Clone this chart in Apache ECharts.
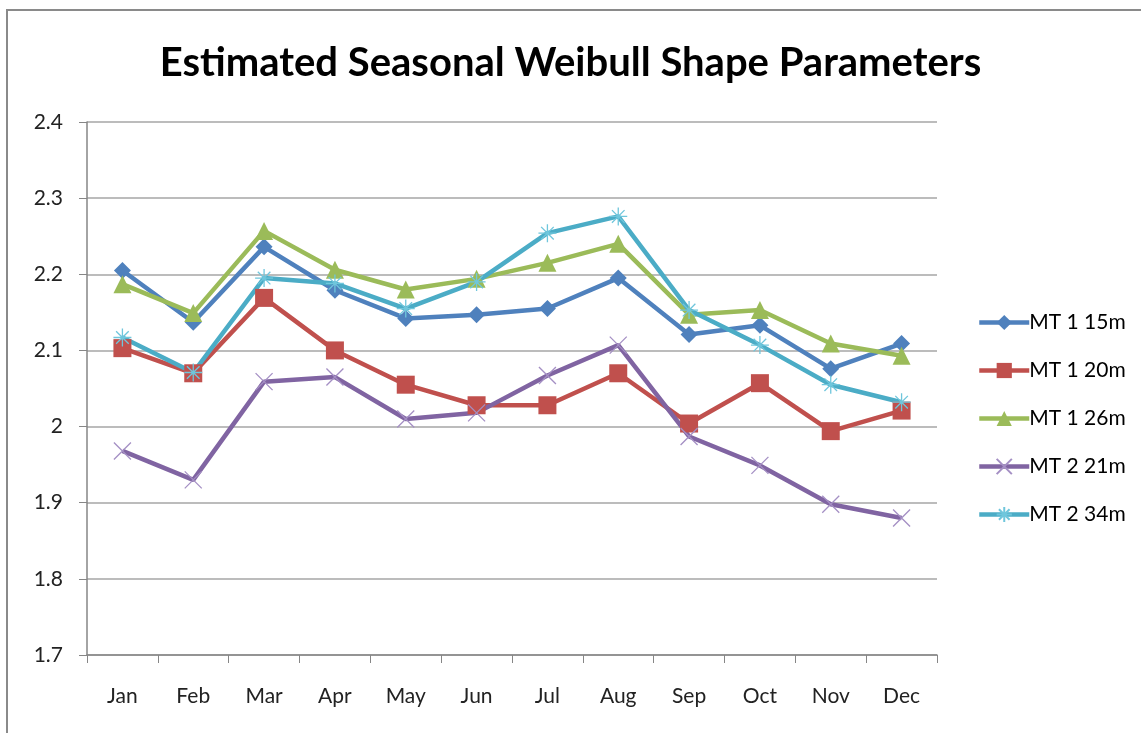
<!DOCTYPE html>
<html>
<head>
<meta charset="utf-8">
<title>Estimated Seasonal Weibull Shape Parameters</title>
<script src="https://cdn.jsdelivr.net/npm/echarts@6/dist/echarts.min.js"></script>
<style>
  html, body { margin: 0; padding: 0; background: #fff; }
  #main { width: 1141px; height: 733px; }
</style>
</head>
<body>
<div id="main"></div>
<script>
// data
var months = ['Jan', 'Feb', 'Mar', 'Apr', 'May', 'Jun', 'Jul', 'Aug', 'Sep', 'Oct', 'Nov', 'Dec'];
var seriesNames = ['MT 1 15m', 'MT 1 20m', 'MT 1 26m', 'MT 2 21m', 'MT 2 34m'];
var mt1_15 = [2.205, 2.137, 2.236, 2.179, 2.142, 2.147, 2.155, 2.195, 2.121, 2.133, 2.076, 2.109];
var mt1_20 = [2.103, 2.070, 2.169, 2.100, 2.055, 2.028, 2.028, 2.070, 2.004, 2.057, 1.994, 2.021];
var mt1_26 = [2.187, 2.149, 2.257, 2.206, 2.180, 2.194, 2.215, 2.240, 2.147, 2.153, 2.109, 2.093];
var mt2_21 = [1.968, 1.930, 2.059, 2.065, 2.010, 2.018, 2.067, 2.107, 1.987, 1.949, 1.898, 1.880];
var mt2_34 = [2.117, 2.071, 2.195, 2.188, 2.155, 2.190, 2.254, 2.276, 2.153, 2.107, 2.055, 2.032];
var yTicks = [1.7, 1.8, 1.9, 2.0, 2.1, 2.2, 2.3, 2.4];

var colors = ['#4F81BD', '#C0504D', '#9BBB59', '#8064A2', '#4BACC6'];
var crossPath = 'path://M0,0L10,10M10,0L0,10';
var starPath = 'path://M0,5L10,5M5,0L5,10M1.5,1.5L8.5,8.5M8.5,1.5L1.5,8.5';

function lineSeries(name, data, color, symbol, size, stroked) {
    var s = {
        name: name,
        type: 'line',
        data: data,
        symbol: symbol,
        symbolSize: size,
        showAllSymbol: true,
        lineStyle: { color: color, width: 4.5 },
        itemStyle: { color: color },
        emphasis: { disabled: true },
        z: 2
    };
    if (stroked) {
        s.itemStyle = { color: 'rgba(0,0,0,0)', borderColor: stroked, borderWidth: 1.3 };
    }
    return s;
}

var myChart = echarts.init(document.getElementById('main'));
var option = {
    animation: false,
    textStyle: { fontFamily: 'Lato' },
    graphic: [{
        type: 'rect',
        shape: { x: 7, y: 10, width: 1300, height: 900 },
        style: { fill: 'none', stroke: '#8a8a8a', lineWidth: 2 },
        silent: true
    }],
    title: {
        text: 'Estimated Seasonal Weibull Shape Parameters',
        left: 'center',
        top: 38,
        textStyle: { fontFamily: 'Lato', fontWeight: 'bold', fontSize: 40, color: '#000' }
    },
    legend: {
        orient: 'vertical',
        left: 972,
        top: 307,
        itemWidth: 50,
        itemHeight: 19,
        itemGap: 27,
        data: seriesNames,
        lineStyle: { width: 4.5 },
        textStyle: { fontFamily: 'Lato', fontSize: 21, color: '#000', padding: [0, 0, 0, -5] }
    },
    grid: { left: 87, right: 204, top: 122, bottom: 78, containLabel: false },
    xAxis: {
        type: 'category',
        data: months,
        boundaryGap: true,
        axisLine: { lineStyle: { color: '#868686', width: 1.5 } },
        axisTick: { show: true, length: 8, lineStyle: { color: '#868686' } },
        axisLabel: { margin: 31, fontSize: 21, color: '#222', fontFamily: 'Lato' },
        splitLine: { show: false }
    },
    yAxis: {
        type: 'value',
        min: yTicks[0],
        max: yTicks[yTicks.length - 1],
        interval: 0.1,
        axisLine: { show: true, lineStyle: { color: '#868686', width: 1.5 } },
        axisTick: { show: true, length: 8, lineStyle: { color: '#868686' } },
        axisLabel: { margin: 24, fontSize: 21, color: '#222', fontFamily: 'Lato',
            formatter: function (v) { return String(Math.round(v * 10) / 10); } },
        splitLine: { lineStyle: { color: '#a6a6a6', width: 1.5 } }
    },
    series: [
        lineSeries(seriesNames[0], mt1_15, colors[0], 'diamond', 17),
        lineSeries(seriesNames[1], mt1_20, colors[1], 'rect', 18),
        lineSeries(seriesNames[2], mt1_26, colors[2], 'triangle', 18),
        lineSeries(seriesNames[3], mt2_21, colors[3], crossPath, 17, '#a48fc4'),
        lineSeries(seriesNames[4], mt2_34, colors[4], starPath, 18, '#6fc6dc')
    ]
};
myChart.setOption(option);
</script>
</body>
</html>
